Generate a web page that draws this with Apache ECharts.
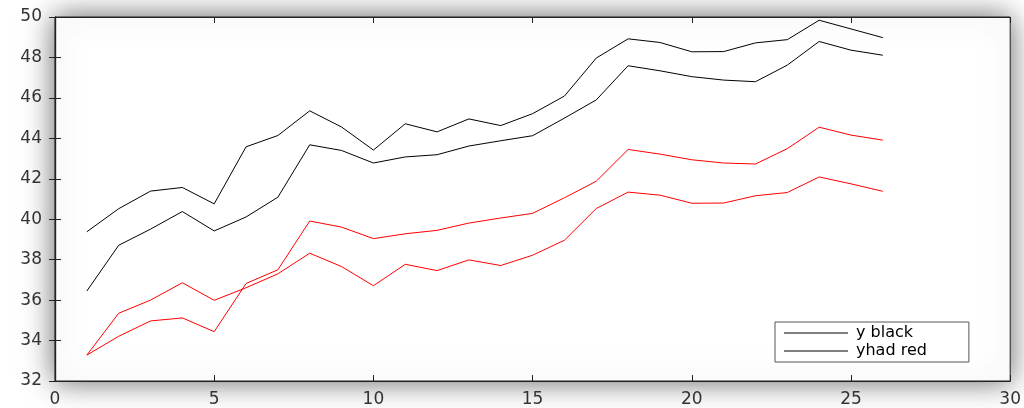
<!DOCTYPE html>
<html>
<head>
<meta charset="utf-8">
<script src="https://cdn.jsdelivr.net/npm/echarts@6/dist/echarts.min.js"></script>
<style>
html,body{margin:0;padding:0;background:#fff;}
#c{width:1024px;height:408px;}
</style>
</head>
<body>
<div id="c"></div>
<script>
var xValues = [1,2,3,4,5,6,7,8,9,10,11,12,13,14,15,16,17,18,19,20,21,22,23,24,25,26];
var yBlackUpper = [39.38,40.52,41.39,41.57,40.76,43.58,44.14,45.36,44.56,43.42,44.72,44.32,44.96,44.63,45.22,46.09,47.97,48.92,48.74,48.28,48.29,48.72,48.88,49.84,49.41,48.98];
var yBlackLower = [36.45,38.71,39.51,40.38,39.42,40.11,41.09,43.68,43.40,42.78,43.08,43.19,43.62,43.88,44.13,45.00,45.90,47.59,47.34,47.05,46.88,46.80,47.62,48.79,48.36,48.11];
var redA = [33.28,35.35,36.00,36.86,35.99,36.61,37.30,38.32,37.66,36.71,37.77,37.46,37.99,37.71,38.22,38.96,40.53,41.34,41.19,40.79,40.80,41.16,41.32,42.09,41.75,41.38];
var redB = [33.28,34.21,34.97,35.12,34.44,36.82,37.50,39.91,39.61,39.04,39.28,39.45,39.81,40.06,40.29,41.06,41.88,43.45,43.22,42.94,42.78,42.73,43.49,44.55,44.16,43.91];
var legendLabels = ['y black','yhad red'];
var xTicks = {min:0, max:30, interval:5};
var yTicks = {min:32, max:50, interval:2};

function pairs(vals){ return xValues.map(function(x,i){ return [x, vals[i]]; }); }

var chart = echarts.init(document.getElementById('c'), null, {renderer:'canvas'});
var axisLine = {show:true, lineStyle:{color:'#222', width:1.2}};
var tick = {show:true, inside:true, length:6, lineStyle:{color:'#222', width:1}};
var lbl = {color:'#333', fontFamily:'DejaVu Sans', fontSize:17};
function line(name, data, color){
  return {name:name, type:'line', data:pairs(data), symbol:'none', showSymbol:false,
    lineStyle:{color:color, width:1}, itemStyle:{color:color}, animation:false};
}
chart.setOption({
  animation:false,
  backgroundColor:'#fff',
  grid:{left:55, top:17, right:13, bottom:26, show:true, backgroundColor:'#fff',
    borderColor:'#222', borderWidth:1, shadowBlur:28, shadowColor:'rgba(0,0,0,0.6)'},
  legend:{show:true, data:legendLabels, orient:'vertical', left:775, top:322, icon:'rect',
    itemWidth:64, itemHeight:1, itemGap:2, padding:[3,42,3,9], backgroundColor:'#fff',
    borderColor:'#555', borderWidth:1,
    textStyle:{fontFamily:'DejaVu Sans', fontSize:16, color:'#000', padding:[0,0,0,3]}},
  xAxis:[
    {type:'value', min:xTicks.min, max:xTicks.max, interval:xTicks.interval, position:'bottom',
     axisLine:axisLine, axisTick:tick, splitLine:{show:false}, axisLabel:Object.assign({margin:10}, lbl)},
    {type:'value', min:xTicks.min, max:xTicks.max, interval:xTicks.interval, position:'top',
     axisLine:axisLine, axisTick:tick, splitLine:{show:false}, axisLabel:{show:false}}
  ],
  yAxis:[
    {type:'value', min:yTicks.min, max:yTicks.max, interval:yTicks.interval, position:'left',
     axisLine:axisLine, axisTick:tick, splitLine:{show:false}, axisLabel:Object.assign({margin:13}, lbl)},
    {type:'value', min:yTicks.min, max:yTicks.max, interval:yTicks.interval, position:'right',
     axisLine:axisLine, axisTick:tick, splitLine:{show:false}, axisLabel:{show:false}}
  ],
  series:[
    line(legendLabels[0], yBlackUpper, '#000'),
    line(legendLabels[1], yBlackLower, '#000'),
    line('red A', redA, '#ff0000'),
    line('red B', redB, '#ff0000')
  ]
});
</script>
</body>
</html>
